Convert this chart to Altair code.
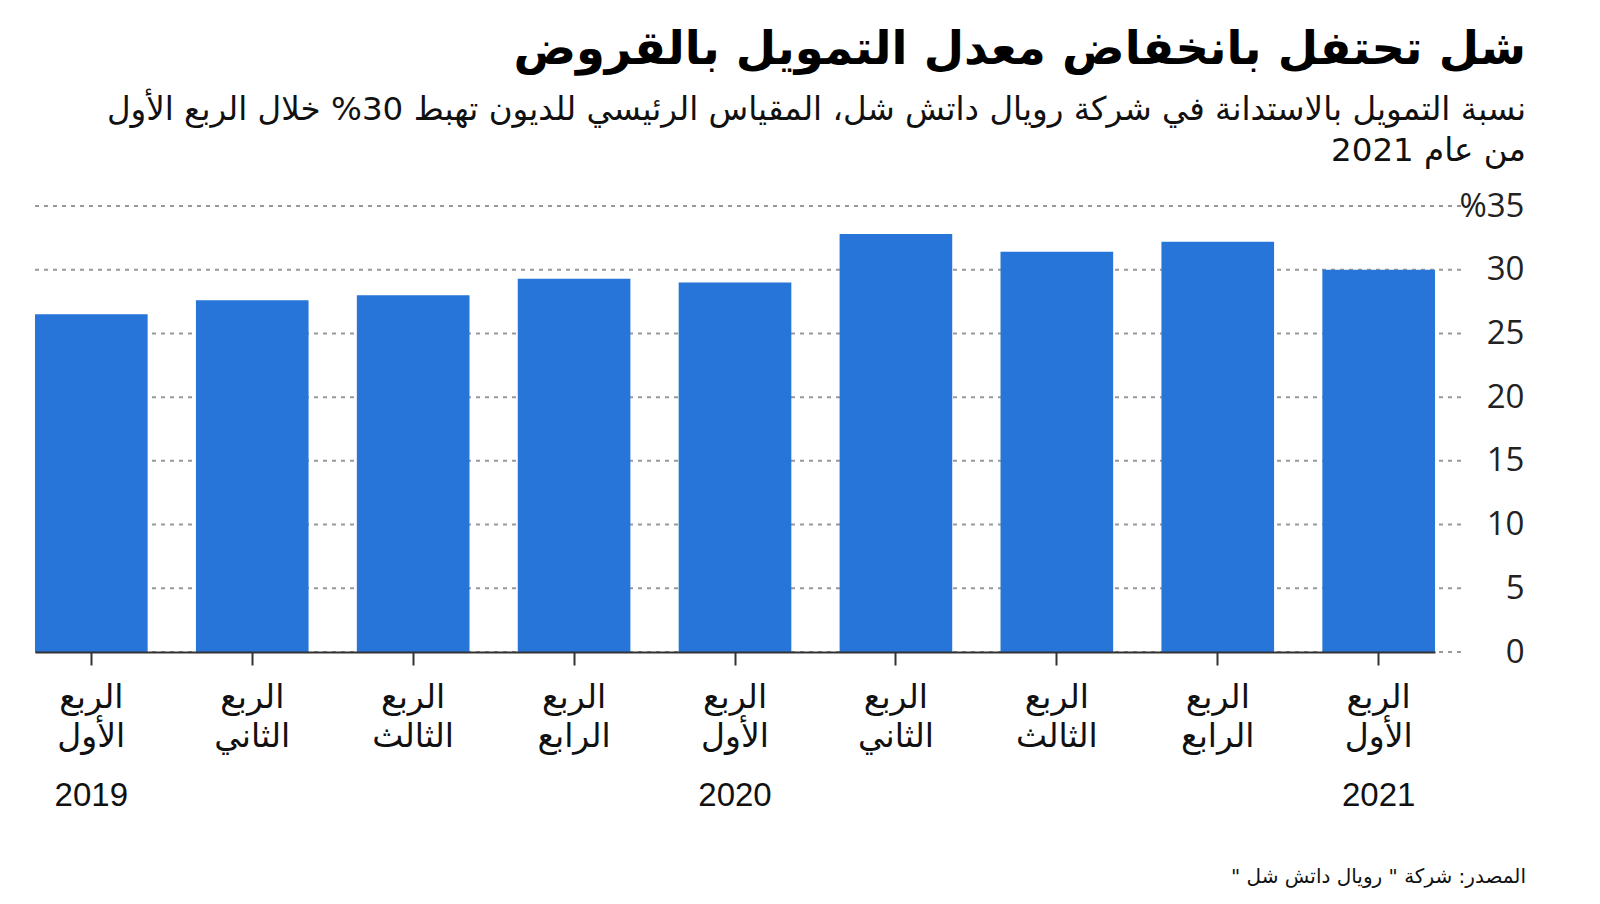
import altair as alt
import pandas as pd

# ---- data ----
quarter_names = ["الربع الأول", "الربع الثاني", "الربع الثالث", "الربع الرابع",
                 "الربع الأول", "الربع الثاني", "الربع الثالث", "الربع الرابع",
                 "الربع الأول"]
years = ["2019", "2019", "2019", "2019", "2020", "2020", "2020", "2020", "2021"]
values = [26.5, 27.6, 28.0, 29.3, 29.0, 32.8, 31.4, 32.2, 30.0]
y_ticks = [0, 5, 10, 15, 20, 25, 30, 35]

title_text = "شل تحتفل بانخفاض معدل التمويل بالقروض"
subtitle_lines = [
    "نسبة التمويل بالاستدانة في شركة رويال داتش شل، المقياس الرئيسي للديون تهبط 30% خلال الربع الأول",
    "من عام 2021",
]
source_text = "المصدر: شركة \" رويال داتش شل \"\u200f"

keys = [f"{q} {y}" for q, y in zip(quarter_names, years)]
df = pd.DataFrame({"key": keys, "value": values, "year": years})
first_of_year = df.drop_duplicates("year")
src_df = pd.DataFrame({"t": [source_text]})
grid_df = pd.DataFrame({"value": y_ticks})

AR_FONT = "DejaVu Sans"
W_PLOT = 1426
BAR_RANGE = 1400
H_PLOT = 446

y_scale = alt.Scale(domain=[0, 35], nice=False)
y_axis = alt.Axis(
    orient="right",
    title=None,
    values=y_ticks,
    labelExpr="datum.value == 35 ? '%35' : datum.label",
    labelFont="Open Sans",
    labelFontSize=33,
    labelColor="#222222",
    labelAlign="right",
    labelPadding=63,
    labelBaseline="middle",
    ticks=False,
    domain=False,
    grid=False,
)

x_enc = alt.X(
    "key:N",
    sort=keys,
    scale=alt.Scale(range=[0, BAR_RANGE], paddingInner=0.3, paddingOuter=0),
    axis=alt.Axis(
        title=None,
        labelAngle=0,
        labelExpr="slice(split(datum.label, ' '), 0, 2)",
        labelFont=AR_FONT,
        labelFontSize=33,
        labelLineHeight=39,
        labelPadding=16,
        labelColor="#111111",
        domainColor="#333333",
        domainWidth=2,
        tickColor="#333333",
        tickWidth=2,
        tickSize=13,
        grid=False,
        zindex=1,
    ),
)

grid = alt.Chart(grid_df).mark_rule(
    color="#999999", strokeDash=[4, 5], strokeWidth=2
).encode(
    y=alt.Y("value:Q", scale=y_scale, axis=y_axis),
    x=alt.value(0),
    x2=alt.value(W_PLOT),
)

bars = alt.Chart(df).mark_bar(color="#2775d9").encode(
    x=x_enc,
    y=alt.Y("value:Q", scale=y_scale, axis=y_axis),
)

year_text = alt.Chart(first_of_year).mark_text(
    font="Liberation Sans", fontSize=33, color="#111111", baseline="alphabetic", align="center"
).encode(
    x=alt.X("key:N", sort=keys),
    y=alt.value(600),
    text="year:N",
)

source = alt.Chart(src_df).mark_text(
    font=AR_FONT, fontSize=20, color="#111111", align="right", baseline="alphabetic"
).encode(
    x=alt.value(1491),
    y=alt.value(677),
    text="t:N",
)

chart = alt.layer(grid, bars, year_text, source).properties(
    width=W_PLOT,
    height=H_PLOT,
    background="white",
    padding={"left": 26, "top": 19, "right": 10, "bottom": 10},
    title=alt.TitleParams(
        text=title_text,
        subtitle=subtitle_lines,
        anchor="end",
        frame="bounds",
        font=AR_FONT,
        fontSize=46.5,
        fontWeight="bold",
        color="#000000",
        subtitleFont=AR_FONT,
        subtitleFontSize=32.5,
        subtitleLineHeight=41,
        subtitlePadding=20,
        subtitleColor="#111111",
        offset=23,
    ),
).configure_view(stroke="transparent", strokeWidth=0)

chart.save("out.html", embed_options={"renderer": "svg", "actions": False})
